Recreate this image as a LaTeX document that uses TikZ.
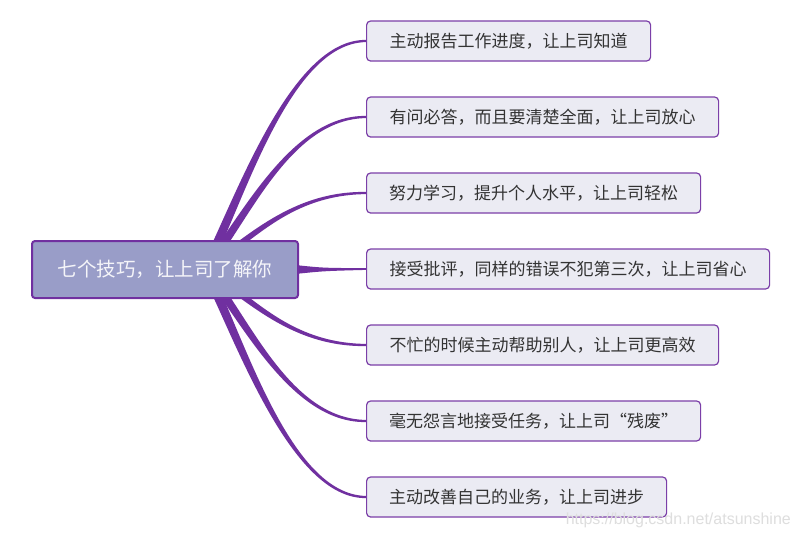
\documentclass[tikz,border=0pt]{standalone}
\usepackage{fontspec}
\newfontfamily\cjk{Noto Sans CJK SC}
\newfontfamily\wm{Liberation Sans}
\usetikzlibrary{calc}
\pgfdeclarelayer{bg}
\pgfsetlayers{bg,main}
\definecolor{brc}{RGB}{112,48,160}
\definecolor{rootfill}{RGB}{153,157,200}
\definecolor{rootdraw}{RGB}{112,48,160}
\definecolor{kidfill}{RGB}{235,235,243}
\definecolor{kiddraw}{RGB}{123,63,168}
\definecolor{kidtext}{RGB}{51,51,51}
\newcommand\mmbranch[3]{%
 \fill[branch] ($(s)+(-5,0)$) .. controls ($#2+(-4.5,-1*#3)$) and ($(#1.west)+(-76,-2*#3)$) .. ($(#1.west)+(0,-1.1*#3)$) -- ($(#1.west)+(0,1.1*#3)$) .. controls ($(#1.west)+(-76,2*#3)$) and ($#2+(4.5,1*#3)$) .. ($(s)+(5,0)$) -- cycle;}
\begin{document}
\begin{tikzpicture}[x=1pt,y=-1pt,
  branch/.style={fill=brc},
  rootbox/.style={draw=rootdraw,line width=2pt,fill=rootfill,rounded corners=3pt,minimum width=266pt,minimum height=57pt,inner sep=0pt,text=white!90!rootfill,font=\cjk\fontsize{19.5}{22}\selectfont},
  kidbox/.style={draw=kiddraw,line width=1.2pt,fill=kidfill,rounded corners=4pt,minimum height=40pt,inner sep=0pt,anchor=west,text=kidtext,font=\cjk\fontsize{17}{20}\selectfont}]
\useasboundingbox (0,0) rectangle (800,539);
\node[rootbox] (root) at (165,269.5) {七个技巧，让上司了解你};
\node[kidbox,minimum width=284pt] (c1) at (366,41) {主动报告工作进度，让上司知道};
\node[kidbox,minimum width=352pt] (c2) at (366,117) {有问必答，而且要清楚全面，让上司放心};
\node[kidbox,minimum width=334pt] (c3) at (366,193) {努力学习，提升个人水平，让上司轻松};
\node[kidbox,minimum width=403pt] (c4) at (366,269) {接受批评，同样的错误不犯第三次，让上司省心};
\node[kidbox,minimum width=352pt] (c5) at (366,345) {不忙的时候主动帮助别人，让上司更高效};
\node[kidbox,minimum width=334pt] (c6) at (366,421) {毫无怨言地接受任务，让上司“残废”};
\node[kidbox,minimum width=300pt] (c7) at (366,497) {主动改善自己的业务，让上司进步};
\node[anchor=east,text=black!13,font=\wm\fontsize{16}{18}\selectfont,inner sep=0pt] (wmk) at (791,520) {https://blog.csdn.net/atsunshine};
\begin{pgfonlayer}{bg}
\fill[white] (0,0) rectangle (800,539);
\coordinate (s) at (205,269);
\mmbranch{c1}{(240,200)}{1}
\mmbranch{c2}{(245,220)}{1}
\mmbranch{c3}{(250,240)}{1}
\mmbranch{c5}{(250,298)}{-1}
\mmbranch{c6}{(245,318)}{-1}
\mmbranch{c7}{(240,338)}{-1}
\fill[branch] ($(root.east)+(-4,-4.5)$) .. controls ($(root.east)+(25,-1.5)$) .. ($(c4.west)+(0,-0.9)$) -- ($(c4.west)+(0,0.9)$) .. controls ($(root.east)+(25,1.5)$) .. ($(root.east)+(-4,4.5)$) -- cycle;
\end{pgfonlayer}
\end{tikzpicture}
\end{document}
